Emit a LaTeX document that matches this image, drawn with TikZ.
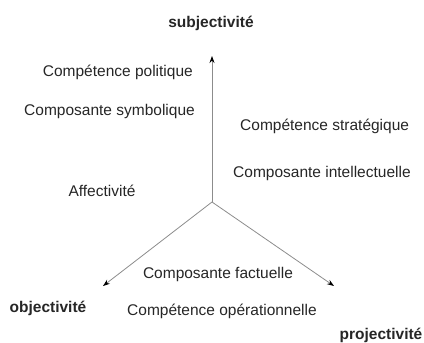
\documentclass[tikz,border=0pt]{standalone}
\usepackage{fontspec}
\setmainfont{Liberation Sans}
\usetikzlibrary{arrows.meta}
\begin{document}
\begin{tikzpicture}[x=1pt,y=-1pt,
  lbl/.style={font=\fontsize{15.5}{17}\selectfont, text=black!85, inner sep=0pt},
  axlbl/.style={lbl, font=\fontsize{15.5}{17}\selectfont\bfseries},
  axis/.style={draw=black!45, line width=0.8pt, -{Stealth[length=7pt,width=5pt,black]}}]
\useasboundingbox (0,0) rectangle (424,343);
\coordinate (O) at (212,202);
\coordinate (up) at (212,56);
\coordinate (left) at (103,286);
\coordinate (right) at (334,286);
\draw[axis] (O) -- (up);
\draw[axis] (O) -- (left);
\draw[axis] (O) -- (right);
\node[axlbl] (subj) at (211,23) {subjectivité};
\node[axlbl] (obj) at (48,308) {objectivité};
\node[axlbl] (proj) at (381,335) {projectivité};
\node[lbl, anchor=east] (cpol) at (193,72) {Compétence politique};
\node[lbl, anchor=east] (csym) at (195,111) {Composante symbolique};
\node[lbl, anchor=west] (cstr) at (240,126) {Compétence stratégique};
\node[lbl, anchor=west] (cint) at (233,173) {Composante intellectuelle};
\node[lbl] (aff) at (102,191) {Affectivité};
\node[lbl] (cfac) at (218,274) {Composante factuelle};
\node[lbl] (cop) at (222,311) {Compétence opérationnelle};
\end{tikzpicture}
\end{document}
